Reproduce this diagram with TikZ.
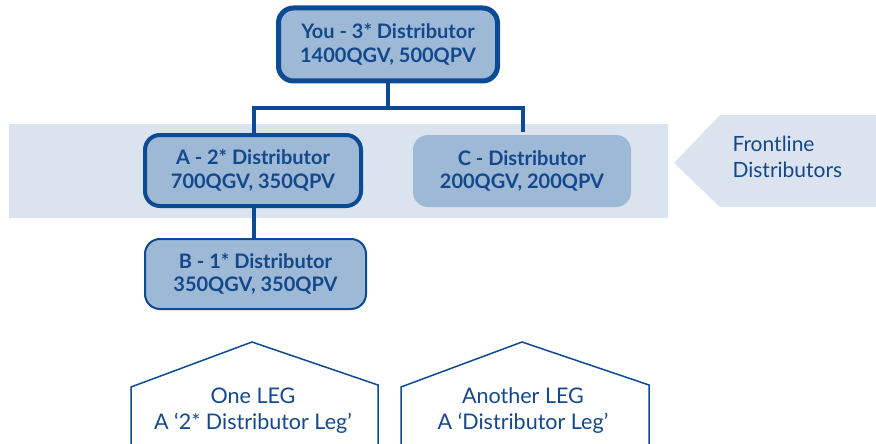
\documentclass[tikz,border=0pt]{standalone}
\usepackage{fontspec}
\setmainfont{Lato}
\definecolor{dblue}{RGB}{12,74,148}
\definecolor{tblue}{RGB}{20,72,140}
\definecolor{boxfill}{RGB}{157,185,214}
\definecolor{bandfill}{RGB}{218,227,238}
\tikzset{
  distbox/.style={rectangle, rounded corners=15pt, fill=boxfill, draw=dblue, inner sep=0pt,
     align=center, text=tblue, font=\fontsize{20}{23.5}\selectfont\bfseries},
  conn/.style={draw=dblue, line width=4pt},
  house/.style={draw=dblue, line width=1.5pt},
  plain/.style={align=center, text=tblue, font=\fontsize{21.5}{25.5}\selectfont},
}
\begin{document}
\begin{tikzpicture}[x=1pt,y=-1pt]
\useasboundingbox (0,0) rectangle (876,444);
% band
\fill[bandfill] (9,124) rectangle (668,218);
% frontline arrow
\fill[bandfill] (674,163) -- (720,115) -- (876,115) -- (876,207) -- (720,207) -- cycle;
\node[plain, align=left, anchor=west, font=\fontsize{21}{25.5}\selectfont] (front) at (729,157) {Frontline\\Distributors};
% boxes
\node[distbox, line width=5pt, minimum width=219pt, minimum height=73pt] (you) at (388,44.5) {You - 3* Distributor\\1400QGV, 500QPV};
\node[distbox, line width=4pt, minimum width=216pt, minimum height=71pt] (a) at (253,170.5) {A - 2* Distributor\\700QGV, 350QPV};
\node[distbox, draw=none, minimum width=218pt, minimum height=72pt] (c) at (522,171) {C - Distributor\\200QGV, 200QPV};
\node[distbox, line width=2pt, minimum width=221pt, minimum height=70pt] (b) at (255.5,274) {B - 1* Distributor\\350QGV, 350QPV};
% connectors
\draw[conn] (you.south) -- ++(0,24) coordinate (j);
\draw[conn] (a.north -| 254,0) |- (j) -| ([yshift=3pt]c.north -| 523,0);
\draw[conn] (a.south -| 254,0) -- (b.north -| 254,0);
% houses
\draw[house] (131,450) -- (131,387) -- (252,342) -- (378,385) -- (378,450);
\draw[house] (401,450) -- (401,387) -- (522,342) -- (649,385) -- (649,450);
\node[plain] (leg1) at (253,410.5) {One LEG\\A `2* Distributor Leg'};
\node[plain] (leg2) at (523,410.5) {Another LEG\\A `Distributor Leg'};
\end{tikzpicture}
\end{document}
